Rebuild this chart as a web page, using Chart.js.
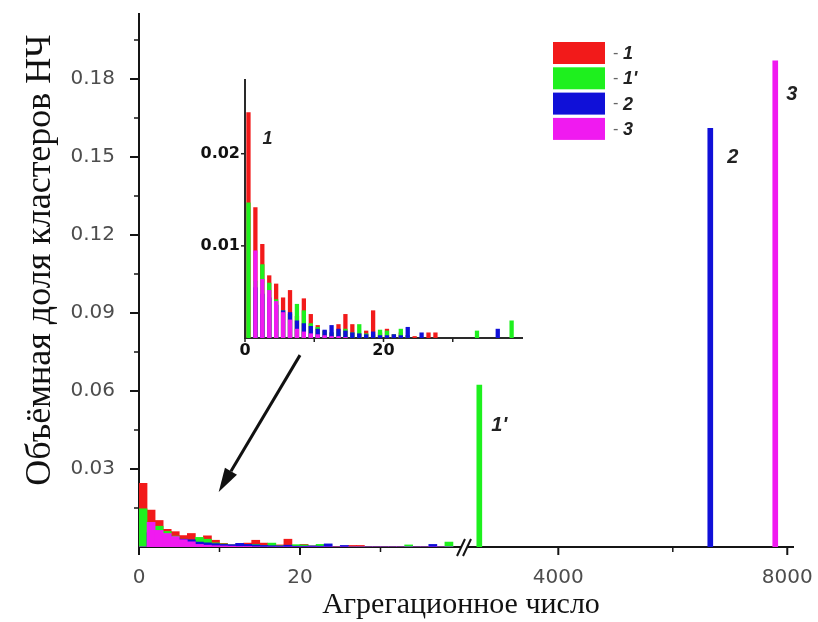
<!DOCTYPE html>
<html>
<head>
<meta charset="utf-8">
<script src="https://cdn.jsdelivr.net/npm/chart.js@4/dist/chart.umd.min.js"></script>
<style>
  html, body { margin: 0; padding: 0; background: #fff; }
  #wrap { position: relative; width: 818px; height: 622px; overflow: hidden; }
  #main { position: absolute; left: 0; top: 0; }
  #inset { position: absolute; left: 185px; top: 70px; }
</style>
</head>
<body>
<div id="wrap">
  <canvas id="main" width="818" height="622"></canvas>
  <canvas id="inset" width="350" height="300"></canvas>
</div>
<script>
// Aggregation-number bins (bin centres) for the small clusters
const binCenters = [0.5, 1.5, 2.5, 3.5, 4.5, 5.5, 6.5, 7.5, 8.5, 9.5,
  10.5, 11.5, 12.5, 13.5, 14.5, 15.5, 16.5, 17.5, 18.5, 19.5,
  20.5, 21.5, 22.5, 23.5, 24.5, 25.5, 26.5, 27.5, 28.5, 29.5,
  30.5, 31.5, 32.5, 33.5, 34.5, 35.5, 36.5, 37.5, 38.5];

// Volume fraction of clusters, series 1
const share1 = [0.0245, 0.0142, 0.0102, 0.0068, 0.0059, 0.0044, 0.0052, 0.0024, 0.0043, 0.0026,
  0.0014, 0.0008, 0.0006, 0.0015, 0.0026, 0.0015, 0.0005, 0.0008, 0.0030, 0.0006,
  0.0010, 0.0004, 0.0006, 0.0003, 0.0002, 0, 0.0006, 0.0006, 0, 0,
  0, 0, 0, 0, 0, 0, 0, 0, 0];
// series 1'
const share1p = [0.0147, 0.0062, 0.0080, 0.0060, 0.0042, 0.0030, 0.0026, 0.0037, 0.0030, 0.0016,
  0.0012, 0.0008, 0.0006, 0.0007, 0.0010, 0.0006, 0.0015, 0.0005, 0.0004, 0.0009,
  0.0008, 0.0004, 0.0010, 0.0003, 0, 0, 0, 0, 0, 0,
  0, 0, 0, 0.0008, 0, 0, 0, 0, 0.0019];
// series 2
const share2 = [0, 0.0055, 0.0048, 0.0044, 0.0036, 0.0030, 0.0028, 0.0019, 0.0016, 0.0013,
  0.0010, 0.0009, 0.0014, 0.0010, 0.0008, 0.0006, 0.0005, 0.0004, 0.0007, 0.0003,
  0.0003, 0.0004, 0.0003, 0.0012, 0, 0.0006, 0, 0, 0, 0,
  0, 0, 0, 0, 0, 0, 0.0010, 0, 0];
// series 3
const share3 = [0, 0.0095, 0.0064, 0.0052, 0.0040, 0.0028, 0.0020, 0.0010, 0.0007, 0.0005,
  0.0004, 0.0003, 0.0002, 0.0002, 0.0001, 0, 0, 0, 0, 0,
  0, 0, 0, 0, 0, 0, 0, 0, 0, 0,
  0, 0, 0, 0, 0, 0, 0, 0, 0];

// Large clusters: one bar per series 1', 2, 3
const largeLabels = ["1'", '2', '3'];
const largeAggNumbers = [2620, 6655, 7790];
const largeShares = [0.0623, 0.161, 0.187];

const seriesLabels = ['1', "1'", '2', '3'];
const seriesColors = ['#f21a1a', '#1ef01e', '#1010d8', '#f01af0'];

// Axis ticks
const yTicks = [0, 0.03, 0.06, 0.09, 0.12, 0.15, 0.18];
const yMinorTicks = [0.015, 0.045, 0.075, 0.105, 0.135, 0.165, 0.195];
const xLowTicks = [0, 10, 20, 30];
const xLowLabelled = [0, 20];
const xHighTicks = [4000, 6000, 8000];
const xHighLabelled = [4000, 8000];
const insetYTicks = [0, 0.01, 0.02];
const insetXTicks = [0, 10, 20, 30];
const insetXLabelled = [0, 20];

const yTitle = 'Объёмная доля кластеров НЧ';
const xTitle = 'Агрегационное число';

Chart.defaults.font.family = 'DejaVu Sans';

const smallSeries = [share1, share1p, share2, share3];
const toPoints = arr => binCenters.map((x, i) => ({ x, y: arr[i] }));

function smallDatasets(xAxisID, pct) {
  return smallSeries.map((arr, i) => ({
    label: seriesLabels[i],
    data: toPoints(arr),
    xAxisID,
    yAxisID: 'y',
    backgroundColor: seriesColors[i],
    borderWidth: 0,
    grouped: false,
    barPercentage: pct,
    categoryPercentage: 1,
    order: 4 - i
  }));
}

const largeDatasets = largeLabels.map((lab, i) => ({
  label: lab,
  data: [{ x: largeAggNumbers[i], y: largeShares[i] }],
  xAxisID: 'xR',
  yAxisID: 'y',
  backgroundColor: seriesColors[i + 1],
  borderWidth: 0,
  grouped: false,
  barPercentage: 1,
  categoryPercentage: 1,
  maxBarThickness: 5,
  order: 0
}));

const tickFont = { family: 'DejaVu Sans', size: 20 };
const tickColor = '#4d4d4d';
const axisColor = '#151515';

function tickLine(ctx, x1, y1, x2, y2, w) {
  ctx.beginPath();
  ctx.moveTo(x1, y1);
  ctx.lineTo(x2, y2);
  ctx.lineWidth = w;
  ctx.stroke();
}

const mainDecor = {
  id: 'mainDecor',
  afterDraw(chart) {
    const { ctx, scales } = chart;
    const { xL, xR, y } = scales;
    const ax = y.right;
    const ay = xL.top;
    ctx.save();
    ctx.strokeStyle = axisColor;

    // y tick marks
    yTicks.forEach(v => { if (v > 0) { const p = y.getPixelForValue(v); tickLine(ctx, ax - 9, p, ax, p, 2); } });
    yMinorTicks.forEach(v => { const p = y.getPixelForValue(v); tickLine(ctx, ax - 5, p, ax, p, 1.5); });
    // x tick marks
    xLowTicks.forEach(v => { const p = xL.getPixelForValue(v); const major = xLowLabelled.includes(v); tickLine(ctx, p, ay, p, ay + (major ? 8 : 5), major ? 2 : 1.5); });
    xHighTicks.forEach(v => { const p = xR.getPixelForValue(v); const major = xHighLabelled.includes(v); tickLine(ctx, p, ay, p, ay + (major ? 8 : 5), major ? 2 : 1.5); });

    // axis break symbol
    const b = xL.right + 3;
    ctx.fillStyle = '#fff';
    ctx.fillRect(b - 3, ay - 3, 7, 6);
    tickLine(ctx, b - 7, ay + 9, b + 1, ay - 8, 2);
    tickLine(ctx, b - 1, ay + 9, b + 7, ay - 8, 2);

    // arrow from the inset down to the small-cluster region
    const x0 = xL.getPixelForValue(20), y0 = y.getPixelForValue(0.0738);
    const x1 = xL.getPixelForValue(9.9), y1 = y.getPixelForValue(0.0212);
    const ang = Math.atan2(y1 - y0, x1 - x0);
    const hl = 24, hw = 7;
    const bx = x1 - hl * Math.cos(ang), by = y1 - hl * Math.sin(ang);
    ctx.strokeStyle = '#111';
    tickLine(ctx, x0, y0, bx, by, 3);
    ctx.fillStyle = '#111';
    ctx.beginPath();
    ctx.moveTo(x1, y1);
    ctx.lineTo(bx + hw * Math.sin(ang), by - hw * Math.cos(ang));
    ctx.lineTo(bx - hw * Math.sin(ang), by + hw * Math.cos(ang));
    ctx.closePath();
    ctx.fill();

    // legend
    const lx = 553, ly = 42, bw = 52, bh = 22, step = 25.3;
    seriesLabels.forEach((lab, i) => {
      ctx.fillStyle = seriesColors[i];
      ctx.fillRect(lx, ly + i * step, bw, bh);
      ctx.fillStyle = '#666';
      ctx.font = '15px "DejaVu Sans"';
      ctx.textBaseline = 'middle';
      ctx.textAlign = 'left';
      ctx.fillText('-', lx + 60, ly + i * step + bh / 2 + 1);
      ctx.fillStyle = '#222';
      ctx.font = 'italic bold 18px "Liberation Sans"';
      ctx.fillText(lab, lx + 70, ly + i * step + bh / 2 + 1);
    });

    // labels next to the large-cluster bars
    const labOffsets = [[12, 40], [17, 29], [11, 34]];
    ctx.font = 'italic bold 20px "Liberation Sans"';
    ctx.fillStyle = '#222';
    ctx.textBaseline = 'middle';
    largeLabels.forEach((lab, i) => {
      const px = xR.getPixelForValue(largeAggNumbers[i]);
      const py = y.getPixelForValue(largeShares[i]);
      ctx.fillText(lab, px + labOffsets[i][0], py + labOffsets[i][1]);
    });

    // axis titles
    ctx.fillStyle = '#111';
    ctx.textAlign = 'center';
    ctx.textBaseline = 'alphabetic';
    ctx.font = '30px "Liberation Serif"';
    ctx.fillText(xTitle, 461, 613);
    ctx.translate(50, 260);
    ctx.rotate(-Math.PI / 2);
    ctx.font = '36px "Liberation Serif"';
    ctx.fillText(yTitle, 0, 0);
    ctx.restore();
  }
};

new Chart(document.getElementById('main'), {
  type: 'bar',
  data: { datasets: [...smallDatasets('xL', 1), ...largeDatasets] },
  options: {
    responsive: false,
    animation: false,
    events: [],
    layout: { padding: { left: 0, top: 14, right: 25, bottom: 0 } },
    plugins: { legend: { display: false }, tooltip: { enabled: false } },
    scales: {
      xL: {
        type: 'linear', position: 'bottom', stack: 'x', stackWeight: 322,
        min: 0, max: 40, offset: false,
        afterFit: s => { s.height = 75; },
        afterBuildTicks: s => { s.ticks = xLowTicks.map(v => ({ value: v })); },
        grid: { display: false, offset: false, tickLength: 19 },
        border: { display: true, color: axisColor, width: 2 },
        ticks: { autoSkip: false, maxRotation: 0, padding: 0, font: tickFont, color: tickColor,
          callback: v => xLowLabelled.includes(v) ? String(v) : '' }
      },
      xR: {
        type: 'linear', position: 'bottom', stack: 'x', stackWeight: 332,
        min: 2300, max: 8100, offset: false,
        afterFit: s => { s.height = 75; },
        afterBuildTicks: s => { s.ticks = xHighTicks.map(v => ({ value: v })); },
        grid: { display: false, offset: false, tickLength: 19 },
        border: { display: true, color: axisColor, width: 2 },
        ticks: { autoSkip: false, maxRotation: 0, padding: 0, font: tickFont, color: tickColor,
          callback: v => xHighLabelled.includes(v) ? String(v) : '' }
      },
      y: {
        position: 'left', min: 0, max: 0.205,
        afterFit: s => { s.width = 139; },
        afterBuildTicks: s => { s.ticks = yTicks.map(v => ({ value: v })); },
        grid: { display: false, tickLength: 24 },
        border: { display: true, color: axisColor, width: 2 },
        ticks: { padding: 0, font: tickFont, color: tickColor,
          callback: v => v === 0 ? '' : v.toFixed(2) }
      }
    }
  },
  plugins: [mainDecor]
});

const insetDecor = {
  id: 'insetDecor',
  afterDraw(chart) {
    const { ctx, scales: { x, y } } = chart;
    ctx.save();
    ctx.strokeStyle = '#222';
    insetYTicks.forEach(v => { if (v > 0) { const p = y.getPixelForValue(v); tickLine(ctx, y.right - 4, p, y.right, p, 1.5); } });
    insetXTicks.forEach(v => { const p = x.getPixelForValue(v); tickLine(ctx, p, x.top, p, x.top + 4, 1.5); });
    // series label
    const px = x.getPixelForValue(binCenters[0]);
    const py = y.getPixelForValue(share1[0]);
    ctx.font = 'italic bold 18px "Liberation Sans"';
    ctx.fillStyle = '#222';
    ctx.textBaseline = 'middle';
    ctx.textAlign = 'left';
    ctx.fillText(seriesLabels[0], px + 14, py + 27);
    ctx.restore();
  }
};

const insetFont = { family: 'DejaVu Sans', size: 16, weight: 'bold' };

new Chart(document.getElementById('inset'), {
  type: 'bar',
  data: { datasets: smallDatasets('x', 0.62) },
  options: {
    responsive: false,
    animation: false,
    events: [],
    layout: { padding: { left: 0, top: 10, right: 13, bottom: 0 } },
    plugins: { legend: { display: false }, tooltip: { enabled: false } },
    scales: {
      x: {
        type: 'linear', position: 'bottom', min: 0, max: 40, offset: false,
        afterFit: s => { s.height = 32; },
        afterBuildTicks: s => { s.ticks = insetXTicks.map(v => ({ value: v })); },
        grid: { display: false, offset: false, tickLength: 3 },
        border: { display: true, color: '#2a2a2a', width: 2 },
        ticks: { autoSkip: false, maxRotation: 0, padding: 0, font: insetFont, color: '#111',
          callback: v => insetXLabelled.includes(v) ? String(v) : '' }
      },
      y: {
        position: 'left', min: 0, max: 0.028,
        afterFit: s => { s.width = 60; },
        afterBuildTicks: s => { s.ticks = insetYTicks.map(v => ({ value: v })); },
        grid: { display: false, tickLength: 5 },
        border: { display: true, color: '#2a2a2a', width: 2 },
        ticks: { padding: 0, font: insetFont, color: '#111',
          callback: v => v === 0 ? '' : v.toFixed(2) }
      }
    }
  },
  plugins: [insetDecor]
});
</script>
</body>
</html>
